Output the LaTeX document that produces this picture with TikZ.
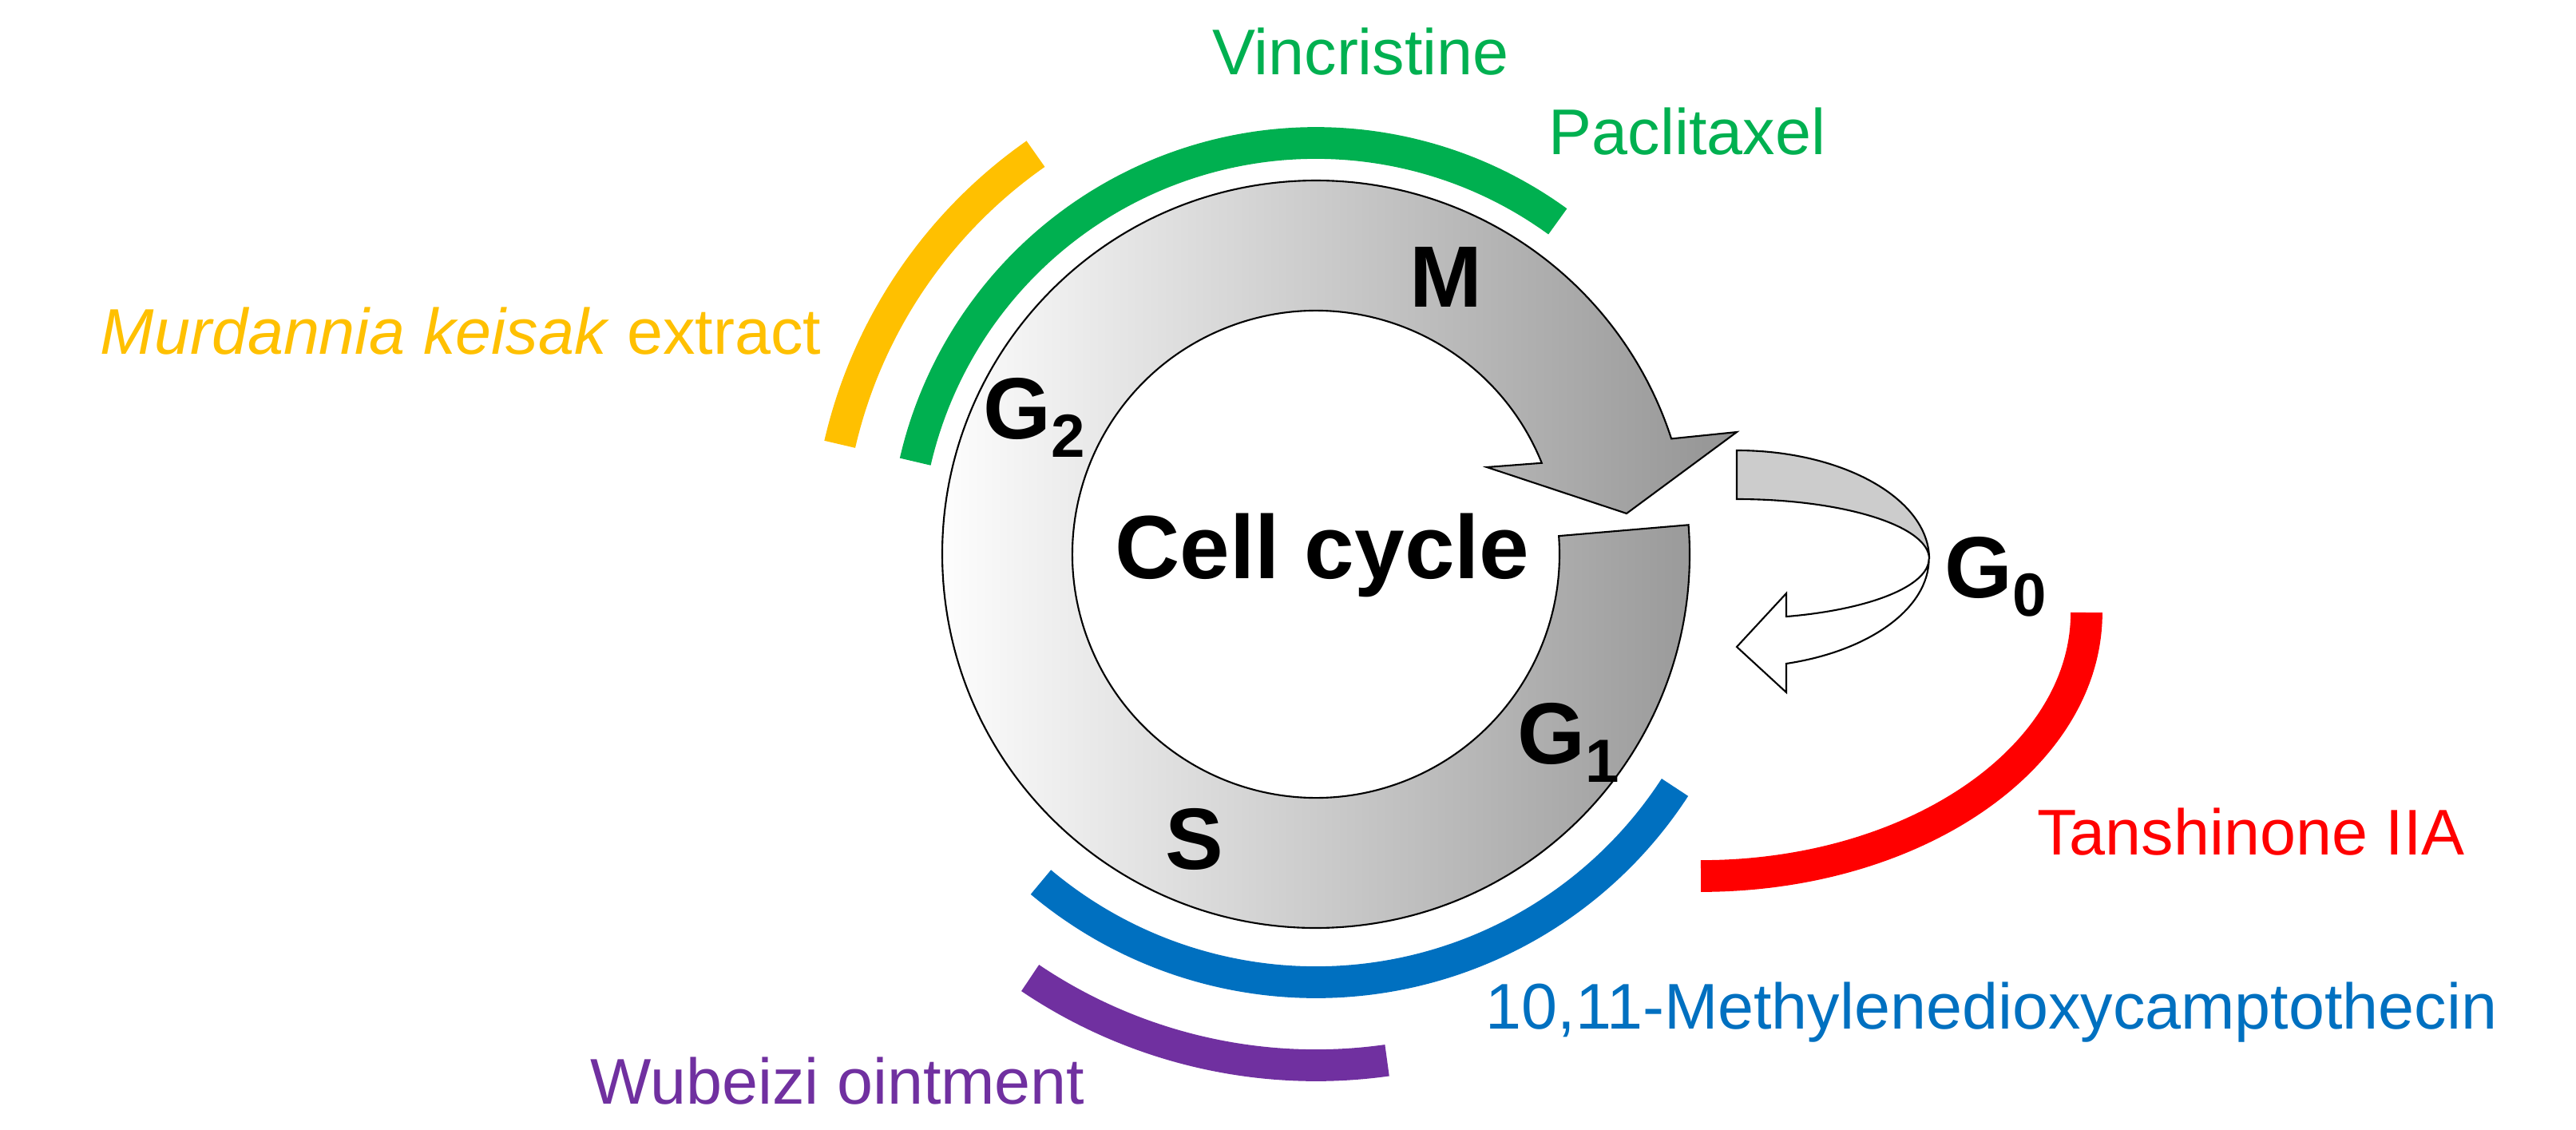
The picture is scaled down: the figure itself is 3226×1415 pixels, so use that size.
\documentclass[tikz,border=0pt]{standalone}
\usepackage{fontspec}
\setmainfont{Liberation Sans}
\usetikzlibrary{calc}
\definecolor{cgreen}{HTML}{00B050}
\definecolor{cyellow}{HTML}{FFC000}
\definecolor{cblue}{HTML}{0070C0}
\definecolor{cpurple}{HTML}{7030A0}
\definecolor{cred}{HTML}{FF0000}
\begin{document}
\begin{tikzpicture}[x=0.01cm,y=-0.01cm,
  band/.style={line width=11.3pt},
  drug/.style={font=\fontsize{23}{27}\selectfont, inner sep=0pt},
  phase/.style={font=\fontsize{31}{36}\selectfont\bfseries, inner sep=0pt},
  ringline/.style={draw=black, line width=0.6pt}]
\useasboundingbox (0,0) rectangle (3226,1415);
\coordinate (C) at (1648,694);
% ring
\path[ringline, left color=white, right color=black!42, shading angle=90]
  (C) ++(-4.5:468) arc[start angle=-4.5,end angle=342,radius=468]
  -- (2175,541) -- (2037,643) -- (1862,585)
  -- ($(C)+(338:305)$) arc[start angle=338,end angle=-4.3,radius=305] -- cycle;
% G0 arrow
\coordinate (E) at (2175,700);
\path[ringline, fill=white] (2237,831) arc[start angle=75,end angle=0,x radius=241,y radius=136]
  arc[start angle=0,end angle=75,x radius=241,y radius=75]
  -- (2237,743) -- (2175,810) -- (2237,867) -- cycle;
\path[ringline, fill=black!20] (2175,564) arc[start angle=-90,end angle=0,x radius=241,y radius=136]
  arc[start angle=0,end angle=-90,x radius=241,y radius=75] -- cycle;
% drug bands
\draw[band, cyellow] (C) ++(193:612) arc[start angle=193,end angle=235,radius=612];
\draw[band, cgreen] (C) ++(193:515) arc[start angle=193,end angle=306,radius=515];
\draw[band, cblue] (C) ++(130:536) arc[start angle=130,end angle=33,radius=536];
\draw[band, cpurple] (C) ++(124:640) arc[start angle=124,end angle=82,radius=640];
\draw[band, cred] (2613,767) arc[start angle=0,end angle=90,x radius=483,y radius=330];
% labels
\node[phase] (m) at (1811,347) {M};
\node[phase] (g2) at (1296,523) {G\textsubscript{2}};
\node[phase] (g1) at (1965,930) {G\textsubscript{1}};
\node[phase] (s) at (1496,1051) {S};
\node[phase] (g0) at (2500,722) {G\textsubscript{0}};
\node[phase, font=\fontsize{32}{36}\selectfont\bfseries] (cc) at (1656,695) {Cell cycle};
\node[drug, text=cgreen] (vin) at (1704,65) {Vincristine};
\node[drug, text=cgreen] (pac) at (2113,165) {Paclitaxel};
\node[drug, text=cyellow, anchor=east] (mur) at (1029,415) {\textit{Murdannia keisak} extract};
\node[drug, text=cred] (tan) at (2819,1042) {Tanshinone IIA};
\node[drug, text=cblue] (mdc) at (2494,1268) {10,11-Methylenedioxycamptothecin};
\node[drug, text=cpurple] (wub) at (1049,1354) {Wubeizi ointment};
\end{tikzpicture}
\end{document}
